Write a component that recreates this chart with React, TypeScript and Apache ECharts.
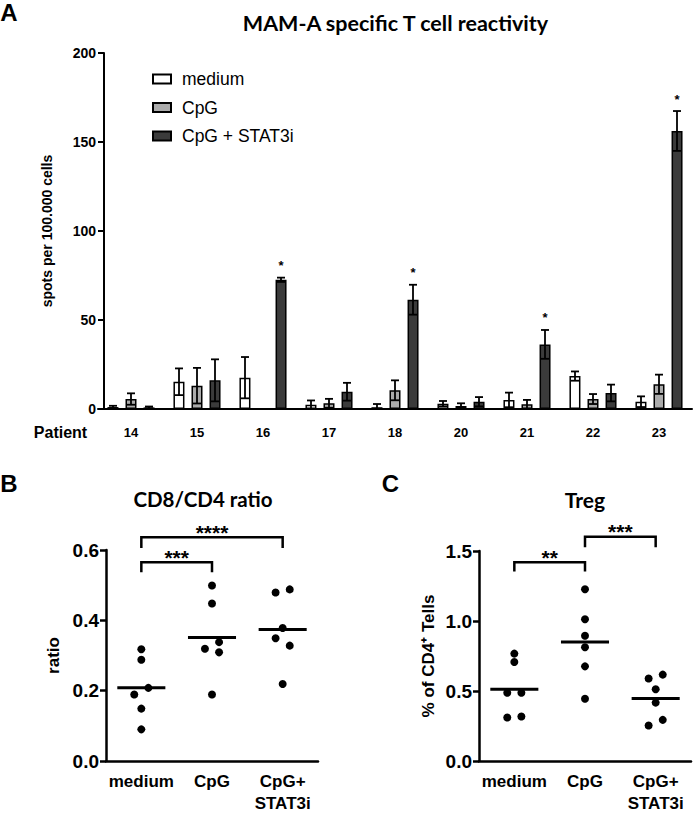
import React, { useEffect, useRef } from 'react';
import * as echarts from 'echarts';

// ---------- Panel A data ----------
const patients = ['14', '15', '16', '17', '18', '20', '21', '22', '23'];
const mediumVals = [1.1, 15.3, 17.6, 2.4, 1.0, 3.0, 5.1, 18.5, 4.1];
const mediumErr = [0.7, 7.5, 11.6, 2.4, 1.8, 1.5, 4.1, 2.6, 3.0];
const cpgVals = [5.6, 13.1, 0, 3.2, 10.5, 1.7, 2.6, 5.6, 13.9];
const cpgErr = [3.2, 10.0, 0, 2.5, 5.6, 1.5, 2.5, 2.8, 5.4];
const stat3Vals = [0.9, 16.1, 72.6, 9.7, 61.4, 4.1, 36.3, 9.0, 156.2];
const stat3Err = [0.5, 11.8, 1.2, 5.0, 8.4, 2.6, 8.1, 4.7, 11.2];
const stat3Sig = ['', '', '*', '', '*', '', '*', '', '*'];
const aTicks = [0, 50, 100, 150, 200];

// ---------- Panels B / C data ----------
const groups = ['medium', 'CpG', 'CpG+\nSTAT3i'];

const ratioMedium = [0.318, 0.288, 0.208, 0.189, 0.149, 0.09];
const ratioMediumJitter = [0, 0, 0.1, -0.1, 0, 0];
const ratioCpG = [0.499, 0.448, 0.319, 0.338, 0.309, 0.189];
const ratioCpGJitter = [0, 0, -0.1, 0.1, 0.1, 0];
const ratioStat3 = [0.479, 0.488, 0.378, 0.349, 0.328, 0.219];
const ratioStat3Jitter = [-0.1, 0.1, 0, -0.1, 0.1, 0];
const ratioMeans = [0.208, 0.351, 0.374];
const ratioBrackets = [
  [0, 1, 0.565, 0.537],
  [0, 2, 0.636, 0.606],
];
const ratioBracketLabels = ['***', '****'];

const tregMedium = [0.767, 0.707, 0.488, 0.488, 0.311, 0.318];
const tregMediumJitter = [0, 0, -0.1, 0.1, -0.1, 0.1];
const tregCpG = [1.227, 1.013, 0.895, 0.813, 0.676, 0.445];
const tregCpGJitter = [0, 0, 0, 0, 0, 0];
const tregStat3 = [0.589, 0.617, 0.513, 0.417, 0.254, 0.294];
const tregStat3Jitter = [-0.1, 0.1, 0, 0, -0.1, 0.1];
const tregMeans = [0.513, 0.85, 0.447];
const tregBrackets = [
  [0, 1, 1.42, 1.354],
  [1, 2, 1.601, 1.526],
];
const tregBracketLabels = ['**', '***'];

const ARIAL = '"Liberation Sans", Arial, sans-serif';
const CAL = 'Lato, "Open Sans", sans-serif';

const barColors = ['#ffffff', '#ababab', '#3b3b3b'];
const barNames = ['medium', 'CpG', 'CpG + STAT3i'];

function points(vals: number[], jit: number[], g: number) {
  return vals.map((v, i) => [g + jit[i], v]);
}

export default function App() {
  const ref = useRef<HTMLDivElement>(null);
  useEffect(() => {
    if (!ref.current) return;
    const chart = echarts.init(ref.current, undefined, { renderer: 'svg' });

    const errData: number[][] = [];
    const sets = [
      [mediumVals, mediumErr],
      [cpgVals, cpgErr],
      [stat3Vals, stat3Err],
    ];
    sets.forEach(([vals, errs], g) => {
      vals.forEach((v, i) => errData.push([i, g, v, errs[i]]));
    });

    const errSeries = {
      type: 'custom',
      xAxisIndex: 0,
      yAxisIndex: 0,
      encode: { x: 0, y: 2 },
      z: 5,
      data: errData,
      renderItem: (params: any, api: any) => {
        const cat = api.value(0);
        const g = api.value(1);
        const v = api.value(2);
        const e = api.value(3);
        const children: any[] = [];
        if (v > 0) {
          const c = api.coord([cat, v]);
          const x = c[0] + (g - 1) * 18;
          const yTop = api.coord([cat, v + e])[1];
          const yBot = api.coord([cat, Math.max(0, v - e)])[1];
          const cap = 4;
          const st = { stroke: '#000', lineWidth: 1.8 };
          children.push(
            { type: 'line', shape: { x1: x, y1: yTop, x2: x, y2: yBot }, style: st },
            { type: 'line', shape: { x1: x - cap, y1: yTop, x2: x + cap, y2: yTop }, style: st },
            { type: 'line', shape: { x1: x - cap, y1: yBot, x2: x + cap, y2: yBot }, style: st }
          );
          if (g === 2 && stat3Sig[cat]) {
            children.push({
              type: 'text',
              x,
              y: yTop - 12,
              style: {
                text: stat3Sig[cat],
                fill: '#000',
                font: `bold 13px ${ARIAL}`,
                align: 'center',
                verticalAlign: 'middle',
              },
            });
          }
        }
        return { type: 'group', children };
      },
    };

    const meanSeries = (means: number[], xi: number, yi: number) => ({
      type: 'custom',
      xAxisIndex: xi,
      yAxisIndex: yi,
      z: 4,
      data: means.map((m, i) => [i, m]),
      renderItem: (params: any, api: any) => {
        const x = api.value(0);
        const y = api.value(1);
        const p1 = api.coord([x - 0.34, y]);
        const p2 = api.coord([x + 0.34, y]);
        return {
          type: 'line',
          shape: { x1: p1[0], y1: p1[1], x2: p2[0], y2: p2[1] },
          style: { stroke: '#000', lineWidth: 3 },
        };
      },
    });

    const bracketSeries = (br: number[][], labels: string[], xi: number, yi: number) => ({
      type: 'custom',
      xAxisIndex: xi,
      yAxisIndex: yi,
      z: 4,
      clip: false,
      data: br,
      renderItem: (params: any, api: any) => {
        const a = api.value(0);
        const b = api.value(1);
        const top = api.value(2);
        const leg = api.value(3);
        const p1 = api.coord([a, leg]);
        const p2 = api.coord([a, top]);
        const p3 = api.coord([b, top]);
        const p4 = api.coord([b, leg]);
        return {
          type: 'group',
          children: [
            {
              type: 'polyline',
              shape: { points: [p1, p2, p3, p4] },
              style: { stroke: '#000', lineWidth: 2.5, fill: null },
            },
            {
              type: 'text',
              x: (p2[0] + p3[0]) / 2,
              y: p2[1] - 5,
              style: {
                text: labels[params.dataIndex],
                fill: '#000',
                font: `bold 21px ${ARIAL}`,
                align: 'center',
                verticalAlign: 'middle',
              },
            },
          ],
        };
      },
    });

    const scatter = (vals: number[], jit: number[], g: number, xi: number, yi: number) => ({
      type: 'scatter',
      xAxisIndex: xi,
      yAxisIndex: yi,
      symbol: 'circle',
      symbolSize: 8,
      itemStyle: { color: '#000', opacity: 1 },
      data: points(vals, jit, g),
      z: 3,
    });

    const catAxisBC = (gi: number) => ({
      type: 'category',
      gridIndex: gi,
      data: groups,
      boundaryGap: true,
      axisLine: { onZero: false, lineStyle: { color: '#000', width: 2.5 } },
      axisTick: { alignWithLabel: true, length: 7, lineStyle: { color: '#000', width: 2.5 } },
      axisLabel: {
        color: '#000',
        fontFamily: ARIAL,
        fontWeight: 'bold',
        fontSize: 17,
        lineHeight: 22,
        margin: 9,
        interval: 0,
      },
    });
    const valXAxis = (gi: number) => ({
      type: 'value',
      gridIndex: gi,
      min: -0.5,
      max: 2.5,
      show: false,
      axisLine: { onZero: false },
    });
    const valYAxisBC = (gi: number, max: number, interval: number, name: string, gap: number) => ({
      type: 'value',
      gridIndex: gi,
      min: 0,
      max,
      interval,
      name,
      nameLocation: 'middle',
      nameGap: gap,
      nameTextStyle: { color: '#000', fontFamily: ARIAL, fontWeight: 'bold', fontSize: 17 },
      splitLine: { show: false },
      axisLine: { show: true, onZero: false, lineStyle: { color: '#000', width: 2.5 } },
      axisTick: { show: true, length: 6, lineStyle: { color: '#000', width: 2.5 } },
      axisLabel: {
        color: '#000',
        fontFamily: ARIAL,
        fontWeight: 'bold',
        fontSize: 19,
        margin: 7,
        formatter: (v: number) => v.toFixed(1),
      },
    });

    const option: any = {
      animation: false,
      backgroundColor: '#fff',
      grid: [
        { left: 98, right: 2, top: 53, bottom: 405, containLabel: false },
        { left: 106, width: 212, top: 550, bottom: 51, containLabel: false },
        { left: 479, width: 212, top: 551, bottom: 51, containLabel: false },
      ],
      legend: {
        data: barNames,
        orient: 'vertical',
        left: 147,
        top: 64,
        itemWidth: 18,
        itemHeight: 9,
        itemGap: 8.5,
        icon: 'rect',
        selectedMode: false,
        formatter: (name: string) => '{p|}' + name,
        textStyle: {
          fontFamily: ARIAL,
          fontSize: 17.5,
          color: '#000',
          lineHeight: 20,
          rich: { p: { width: 6 } },
        },
      },
      xAxis: [
        {
          type: 'category',
          gridIndex: 0,
          data: patients,
          axisLine: { onZero: false, lineStyle: { color: '#000', width: 2 } },
          axisTick: { alignWithLabel: true, length: 6, lineStyle: { color: '#000', width: 2 } },
          axisLabel: {
            color: '#000',
            fontFamily: ARIAL,
            fontWeight: 'bold',
            fontSize: 13,
            margin: 17,
            interval: 0,
          },
        },
        catAxisBC(1),
        valXAxis(1),
        catAxisBC(2),
        valXAxis(2),
      ],
      yAxis: [
        {
          type: 'value',
          gridIndex: 0,
          min: aTicks[0],
          max: aTicks[aTicks.length - 1],
          interval: 50,
          offset: -6,
          name: 'spots per 100.000 cells',
          nameLocation: 'middle',
          nameGap: 50,
          nameTextStyle: { color: '#000', fontFamily: ARIAL, fontWeight: 'bold', fontSize: 14 },
          splitLine: { show: false },
          axisLine: { show: true, onZero: false, lineStyle: { color: '#000', width: 2 } },
          axisTick: { show: true, length: 6, lineStyle: { color: '#000', width: 2 } },
          axisLabel: { color: '#000', fontFamily: ARIAL, fontWeight: 'bold', fontSize: 14, margin: 8 },
        },
        valYAxisBC(1, 0.6, 0.2, 'ratio', 44),
        valYAxisBC(2, 1.5, 0.5, '% of CD4\u207A Tells', 42),
      ],
      series: [
        ...[mediumVals, cpgVals, stat3Vals].map((vals, g) => ({
          type: 'bar',
          name: barNames[g],
          xAxisIndex: 0,
          yAxisIndex: 0,
          data: vals,
          barWidth: 11,
          barGap: '64%',
          itemStyle: { color: barColors[g], borderColor: '#000', borderWidth: 1.5 },
        })),
        errSeries,
        scatter(ratioMedium, ratioMediumJitter, 0, 2, 1),
        scatter(ratioCpG, ratioCpGJitter, 1, 2, 1),
        scatter(ratioStat3, ratioStat3Jitter, 2, 2, 1),
        meanSeries(ratioMeans, 2, 1),
        bracketSeries(ratioBrackets, ratioBracketLabels, 2, 1),
        scatter(tregMedium, tregMediumJitter, 0, 4, 2),
        scatter(tregCpG, tregCpGJitter, 1, 4, 2),
        scatter(tregStat3, tregStat3Jitter, 2, 4, 2),
        meanSeries(tregMeans, 4, 2),
        bracketSeries(tregBrackets, tregBracketLabels, 4, 2),
      ],
      graphic: [
        { type: 'text', x: 9, y: 12, style: { text: 'A', font: `bold 24px ${ARIAL}`, fill: '#000', align: 'center', verticalAlign: 'middle' } },
        { type: 'text', x: 395.5, y: 22.5, style: { text: 'MAM-A specific T cell reactivity', font: `bold 21.5px ${CAL}`, fill: '#000', align: 'center', verticalAlign: 'middle' } },
        { type: 'text', x: 60.5, y: 432, style: { text: 'Patient', font: `bold 16px ${ARIAL}`, fill: '#000', align: 'center', verticalAlign: 'middle' } },
        { type: 'text', x: 9, y: 483, style: { text: 'B', font: `bold 24px ${ARIAL}`, fill: '#000', align: 'center', verticalAlign: 'middle' } },
        { type: 'text', x: 203, y: 499, style: { text: 'CD8/CD4 ratio', font: `bold 20.5px ${CAL}`, fill: '#000', align: 'center', verticalAlign: 'middle' } },
        { type: 'text', x: 390.5, y: 483, style: { text: 'C', font: `bold 24px ${ARIAL}`, fill: '#000', align: 'center', verticalAlign: 'middle' } },
        { type: 'text', x: 585, y: 499, style: { text: 'Treg', font: `bold 21px ${CAL}`, fill: '#000', align: 'center', verticalAlign: 'middle' } },
      ],
    };

    chart.setOption(option);
    return () => chart.dispose();
  }, []);

  return (
    <div
      ref={ref}
      style={{ position: 'fixed', left: 0, top: 0, width: 694, height: 814, background: '#fff' }}
    />
  );
}
